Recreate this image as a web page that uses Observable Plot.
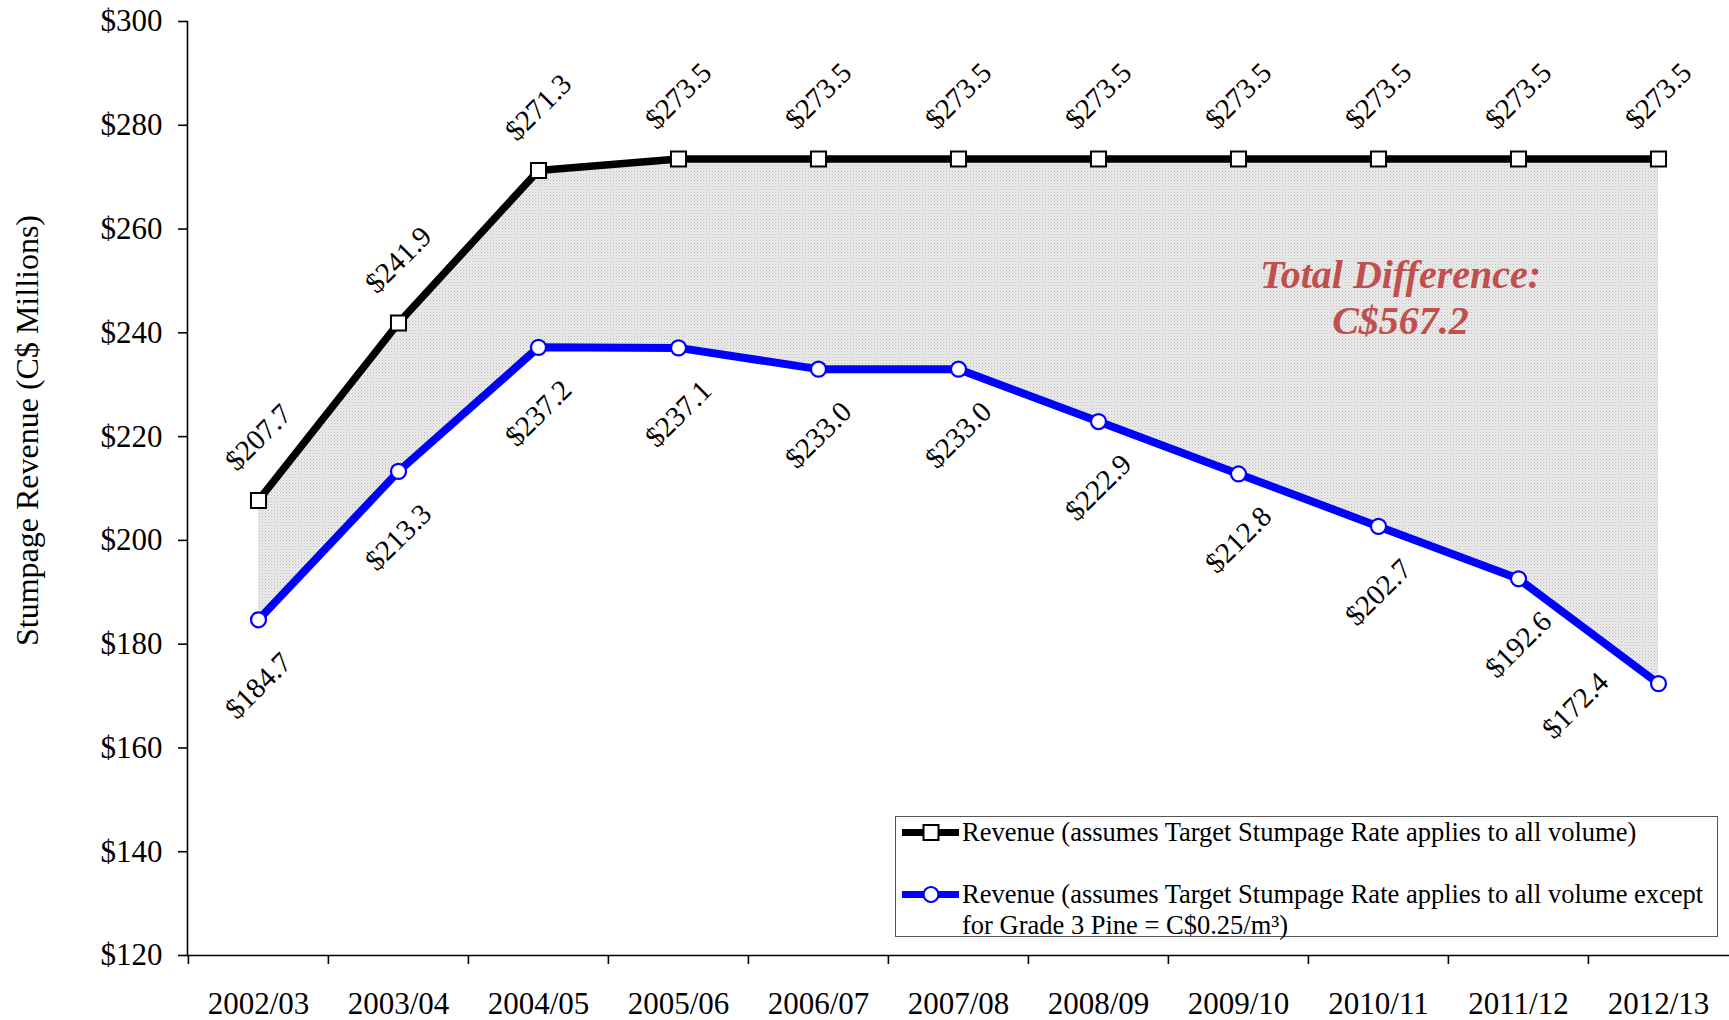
<!DOCTYPE html>
<html><head><meta charset="utf-8">
<script src="https://cdn.jsdelivr.net/npm/d3@7"></script>
<script src="https://cdn.jsdelivr.net/npm/@observablehq/plot@0.6"></script>
<style>
body{margin:0;background:#fff;}
#wrap{position:relative;width:1729px;height:1020px;font-family:"Liberation Serif","Times New Roman",serif;}
#legend{position:absolute;left:895px;top:816px;width:823px;height:121px;border:1.5px solid #555;background:#fff;box-sizing:border-box;font-size:26.5px;color:#000;line-height:31px;}
#legend .row{position:absolute;left:0;display:flex;align-items:flex-start;}
#legend svg{flex:none;}
</style></head>
<body><div id="wrap"><div id="legend"></div></div>
<script>
const years = ["2002/03","2003/04","2004/05","2005/06","2006/07","2007/08","2008/09","2009/10","2010/11","2011/12","2012/13"];
const targetRevenue = [207.7,241.9,271.3,273.5,273.5,273.5,273.5,273.5,273.5,273.5,273.5];
const grade3Revenue = [184.7,213.3,237.2,237.1,233.0,233.0,222.9,212.8,202.7,192.6,172.4];
const yTicks = [120,140,160,180,200,220,240,260,280,300];
const yTitle = "Stumpage Revenue (C$ Millions)";
const seriesNames = [
  "Revenue (assumes Target Stumpage Rate applies to all volume)",
  "Revenue (assumes Target Stumpage Rate applies to all volume except for Grade 3 Pine = C$0.25/m³)"
];
const legendLines2 = ["Revenue (assumes Target Stumpage Rate applies to all volume except", "for Grade 3 Pine = C$0.25/m³)"];
const annotationText = "Total Difference:\nC$567.2";
const annotationX = "2010/11";
const annotationY = 247;

const data = years.map((year, i) => ({year, target: targetRevenue[i], grade3: grade3Revenue[i]}));
const fmt = v => "$" + v.toFixed(1);

const W = 1729, H = 1020, mL = 187, mR = 0, mT = 21, mB = 65;
const bw = (W - mL - mR) / years.length;
const last = years.length - 1;

const chart = Plot.plot({
  width: W, height: H,
  marginLeft: mL, marginRight: mR, marginTop: mT, marginBottom: mB,
  style: {fontFamily: "'Liberation Serif','Times New Roman',serif", fontSize: "31px", color: "#000", background: "white"},
  x: {type: "band", domain: years, padding: 0, label: null},
  y: {domain: [120, 300], label: null},
  marks: [
    Plot.areaY(data, {x: "year", y1: "grade3", y2: "target", fill: "url(#stipple)"}),
    Plot.frame({anchor: "left", stroke: "#000", strokeWidth: 1.6}),
    Plot.frame({anchor: "bottom", stroke: "#000", strokeWidth: 1.6}),
    Plot.axisY({ticks: yTicks, tickFormat: d => "$" + d, tickSize: 9, tickPadding: 16, fontSize: 31, strokeWidth: 1.6}),
    Plot.axisX({tickSize: 0, tickPadding: 36, fontSize: 31}),
    Plot.ruleX(years, {x: d => d, y1: 120, y2: 120, dx: -bw / 2, insetBottom: -9, stroke: "#000", strokeWidth: 1.6}),
    Plot.text([yTitle], {text: d => d, frameAnchor: "left", textAnchor: "middle", dx: -160, dy: -58, rotate: -90, fontSize: 32}),
    Plot.line(data, {x: "year", y: "target", stroke: "#000", strokeWidth: 7.5}),
    Plot.line(data, {x: "year", y: "grade3", stroke: "#0000ff", strokeWidth: 8}),
    Plot.dot(data, {x: "year", y: "target", symbol: "square", r: 8.5, fill: "white", stroke: "#000", strokeWidth: 2}),
    Plot.dot(data, {x: "year", y: "grade3", symbol: "circle", r: 7.5, fill: "white", stroke: "#0000ff", strokeWidth: 2.2}),
    Plot.text(data, {x: "year", y: "target", text: d => fmt(d.target), rotate: -45, dy: -63, fontSize: 29}),
    Plot.text(data, {filter: (d, i) => i !== last, x: "year", y: "grade3", text: d => fmt(d.grade3), rotate: -45, dy: 66, fontSize: 29}),
    Plot.text(data, {filter: (d, i) => i === last, x: "year", y: "grade3", text: d => fmt(d.grade3), rotate: -45, dx: -83, dy: 22, fontSize: 29}),
    Plot.text([annotationText], {x: () => annotationX, y: () => annotationY, text: d => d, dx: 22, fill: "#c0504d", fontSize: 40, fontWeight: "bold", fontStyle: "italic", lineHeight: 1.15})
  ]
});
// stipple pattern for the difference area
const defs = d3.select(chart).insert("defs", ":first-child");
const pat = defs.append("pattern").attr("id", "stipple").attr("patternUnits", "userSpaceOnUse").attr("width", 3).attr("height", 3);
pat.append("rect").attr("width", 3).attr("height", 3).attr("fill", "#ebebeb");
pat.append("rect").attr("width", 1).attr("height", 1).attr("fill", "#bdbdbd");
pat.append("rect").attr("x", 1.5).attr("y", 1.5).attr("width", 1).attr("height", 1).attr("fill", "#d0d0d0");

const wrap = document.getElementById("wrap");
wrap.insertBefore(chart, wrap.firstChild);

// legend
const legend = d3.select("#legend");
function sample(row, stroke, symbol) {
  const svg = row.append("svg").attr("width", 66).attr("height", 31);
  svg.append("line").attr("x1", 6).attr("x2", 63).attr("y1", 15.5).attr("y2", 15.5).attr("stroke", stroke).attr("stroke-width", 7);
  if (symbol === "square") svg.append("rect").attr("x", 27.5).attr("y", 8).attr("width", 15).attr("height", 15).attr("fill", "white").attr("stroke", stroke).attr("stroke-width", 2);
  else svg.append("circle").attr("cx", 35).attr("cy", 15.5).attr("r", 7.5).attr("fill", "white").attr("stroke", stroke).attr("stroke-width", 2.2);
}
const r1 = legend.append("div").attr("class", "row").style("top", "0px");
sample(r1, "#000", "square");
r1.append("div").text(seriesNames[0]);
const r2 = legend.append("div").attr("class", "row").style("top", "62px");
sample(r2, "#0000ff", "circle");
r2.append("div").html(legendLines2[0] + "<br>" + legendLines2[1]);
</script>
</body></html>
